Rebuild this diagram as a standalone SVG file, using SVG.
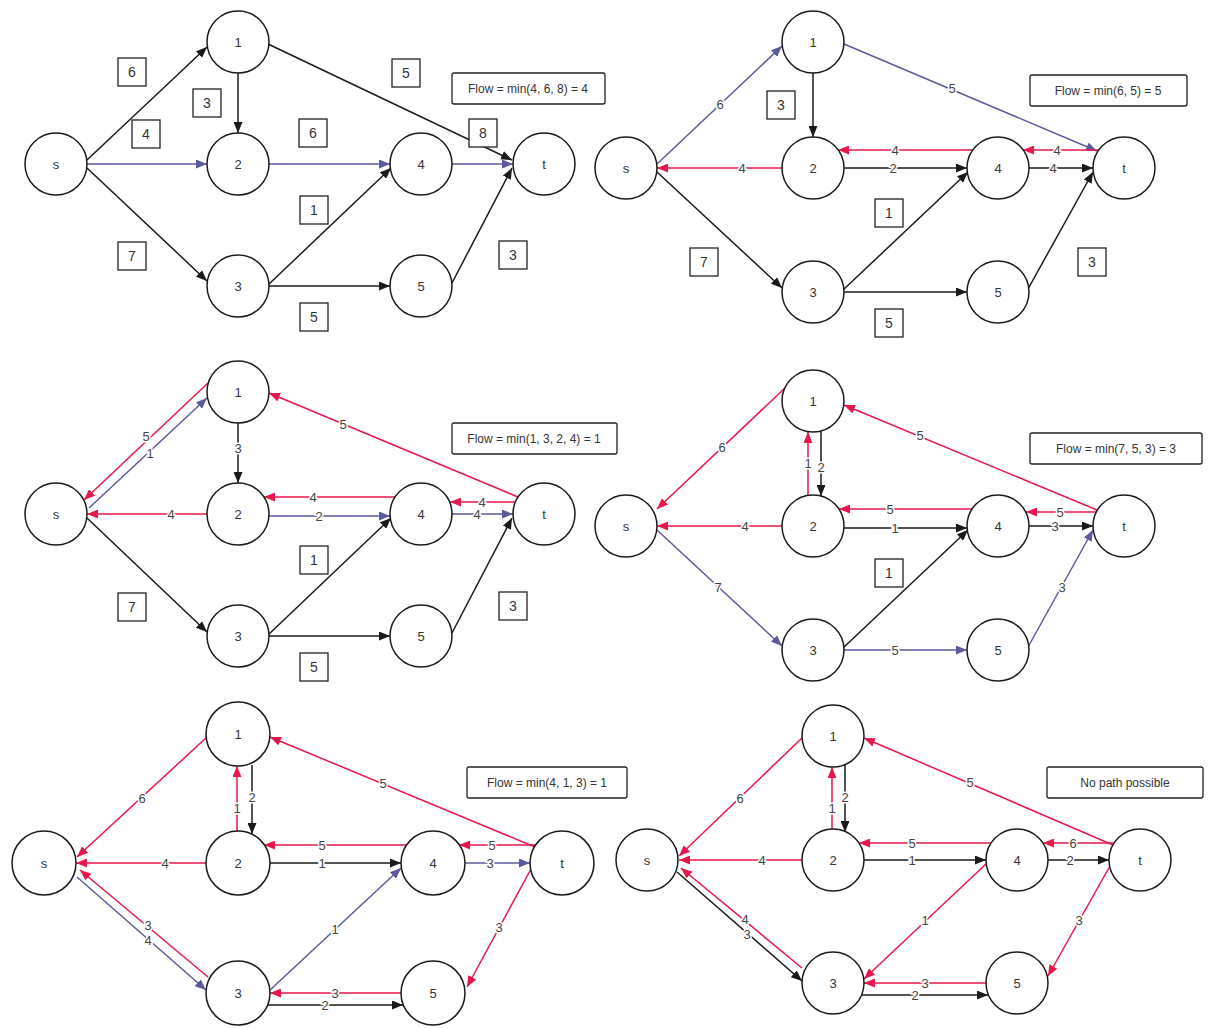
<svg xmlns="http://www.w3.org/2000/svg" width="1215" height="1028" viewBox="0 0 1215 1028">
<style>
text{font-family:"Liberation Sans",Arial,sans-serif;text-anchor:middle;dominant-baseline:central}
.k{stroke:#1a1a1a;stroke-width:1.5;fill:none}
.r{stroke:#e8174b;stroke-width:1.5;fill:none}
.p{stroke:#5a5a9c;stroke-width:1.5;fill:none}
.node circle{fill:#fff;stroke:#1a1a1a;stroke-width:1.5}
.node text{font-size:13px;fill:#333}
.el{font-size:13px;fill:#444;stroke:#fff;stroke-width:3;paint-order:stroke}
.box rect{fill:#fff;stroke:#222;stroke-width:1.3}
.box text{font-size:14px;fill:#333}
.flow rect{fill:#fff;stroke:#222;stroke-width:1.3}
.flow text{font-size:12px;fill:#333}
</style>
<defs>
<marker id="ak" markerUnits="userSpaceOnUse" markerWidth="11" markerHeight="9" refX="11" refY="4.5" orient="auto"><path d="M0,0 L11,4.5 L0,9 z" fill="#1a1a1a"/></marker>
<marker id="ar" markerUnits="userSpaceOnUse" markerWidth="11" markerHeight="9" refX="11" refY="4.5" orient="auto"><path d="M0,0 L11,4.5 L0,9 z" fill="#e8174b"/></marker>
<marker id="ap" markerUnits="userSpaceOnUse" markerWidth="11" markerHeight="9" refX="11" refY="4.5" orient="auto"><path d="M0,0 L11,4.5 L0,9 z" fill="#5a5a9c"/></marker>
</defs>
<rect width="1215" height="1028" fill="#fff"/>

<!-- PANEL 1 -->
<g id="p1-connectors">
<line x1="87" y1="160" x2="207" y2="47" class="k" marker-end="url(#ak)"/>
<line x1="87" y1="164" x2="207" y2="164" class="p" marker-end="url(#ap)"/>
<line x1="87" y1="168" x2="207" y2="281" class="k" marker-end="url(#ak)"/>
<line x1="238" y1="73" x2="238" y2="133" class="k" marker-end="url(#ak)"/>
<line x1="268" y1="44" x2="512" y2="160" class="k" marker-end="url(#ak)"/>
<line x1="269" y1="164" x2="390" y2="164" class="p" marker-end="url(#ap)"/>
<line x1="268" y1="285" x2="391" y2="168" class="k" marker-end="url(#ak)"/>
<line x1="269" y1="286" x2="390" y2="286" class="k" marker-end="url(#ak)"/>
<line x1="452" y1="164" x2="513" y2="164" class="p" marker-end="url(#ap)"/>
<line x1="452" y1="283" x2="512" y2="168" class="k" marker-end="url(#ak)"/>
</g>
<g id="p1-s" class="node"><circle cx="56" cy="164" r="31"/><text x="56" y="164">s</text></g>
<g id="p1-n1" class="node"><circle cx="238" cy="42" r="31"/><text x="238" y="42">1</text></g>
<g id="p1-n2" class="node"><circle cx="238" cy="164" r="31"/><text x="238" y="164">2</text></g>
<g id="p1-n3" class="node"><circle cx="238" cy="286" r="31"/><text x="238" y="286">3</text></g>
<g id="p1-n4" class="node"><circle cx="421" cy="164" r="31"/><text x="421" y="164">4</text></g>
<g id="p1-t" class="node"><circle cx="544" cy="164" r="31"/><text x="544" y="164">t</text></g>
<g id="p1-n5" class="node"><circle cx="421" cy="286" r="31"/><text x="421" y="286">5</text></g>
<g id="p1-c-s1" class="box"><rect x="118" y="58" width="28" height="28"/><text x="132" y="72">6</text></g>
<g id="p1-c-12" class="box"><rect x="193" y="89" width="28" height="28"/><text x="207" y="103">3</text></g>
<g id="p1-c-s2" class="box"><rect x="132" y="120" width="28" height="28"/><text x="146" y="134">4</text></g>
<g id="p1-c-24" class="box"><rect x="299" y="119" width="28" height="28"/><text x="313" y="133">6</text></g>
<g id="p1-c-s3" class="box"><rect x="118" y="242" width="28" height="28"/><text x="132" y="256">7</text></g>
<g id="p1-c-34" class="box"><rect x="300" y="196" width="28" height="28"/><text x="314" y="210">1</text></g>
<g id="p1-c-35" class="box"><rect x="300" y="303" width="28" height="28"/><text x="314" y="317">5</text></g>
<g id="p1-c-1t" class="box"><rect x="392" y="59" width="28" height="28"/><text x="406" y="73">5</text></g>
<g id="p1-c-4t" class="box"><rect x="469" y="119" width="28" height="28"/><text x="483" y="133">8</text></g>
<g id="p1-c-5t" class="box"><rect x="499" y="241" width="28" height="28"/><text x="513" y="255">3</text></g>
<g id="p1-flow" class="flow"><rect x="452" y="73" width="153" height="31" rx="2"/><text x="528" y="89">Flow = min(4, 6, 8) = 4</text></g>

<!-- PANEL 2 -->
<g id="p2-connectors">
<line x1="657" y1="164" x2="782" y2="46" class="p" marker-end="url(#ap)"/>
<line x1="782" y1="168" x2="657" y2="168" class="r" marker-end="url(#ar)"/>
<line x1="657" y1="172" x2="782" y2="288" class="k" marker-end="url(#ak)"/>
<line x1="813" y1="73" x2="813" y2="137" class="k" marker-end="url(#ak)"/>
<line x1="844" y1="44" x2="1097" y2="151" class="p" marker-end="url(#ap)"/>
<line x1="973" y1="150" x2="838" y2="150" class="r" marker-end="url(#ar)"/>
<line x1="844" y1="168" x2="967" y2="168" class="k" marker-end="url(#ak)"/>
<line x1="1099" y1="150" x2="1023" y2="150" class="r" marker-end="url(#ar)"/>
<line x1="1029" y1="168" x2="1093" y2="168" class="k" marker-end="url(#ak)"/>
<line x1="843" y1="290" x2="968" y2="172" class="k" marker-end="url(#ak)"/>
<line x1="844" y1="292" x2="967" y2="292" class="k" marker-end="url(#ak)"/>
<line x1="1028" y1="289" x2="1093" y2="172" class="k" marker-end="url(#ak)"/>
<text x="720" y="104" class="el">6</text>
<text x="742" y="168" class="el">4</text>
<text x="952" y="88" class="el">5</text>
<text x="895" y="150" class="el">4</text>
<text x="893" y="168" class="el">2</text>
<text x="1057" y="150" class="el">4</text>
<text x="1053" y="168" class="el">4</text>
</g>
<g id="p2-s" class="node"><circle cx="626" cy="168" r="31"/><text x="626" y="168">s</text></g>
<g id="p2-n1" class="node"><circle cx="813" cy="42" r="31"/><text x="813" y="42">1</text></g>
<g id="p2-n2" class="node"><circle cx="813" cy="168" r="31"/><text x="813" y="168">2</text></g>
<g id="p2-n3" class="node"><circle cx="813" cy="292" r="31"/><text x="813" y="292">3</text></g>
<g id="p2-n4" class="node"><circle cx="998" cy="168" r="31"/><text x="998" y="168">4</text></g>
<g id="p2-t" class="node"><circle cx="1124" cy="168" r="31"/><text x="1124" y="168">t</text></g>
<g id="p2-n5" class="node"><circle cx="998" cy="292" r="31"/><text x="998" y="292">5</text></g>
<g id="p2-c-12" class="box"><rect x="767" y="91" width="28" height="28"/><text x="781" y="105">3</text></g>
<g id="p2-c-s3" class="box"><rect x="690" y="248" width="28" height="28"/><text x="704" y="262">7</text></g>
<g id="p2-c-34" class="box"><rect x="875" y="199" width="28" height="28"/><text x="889" y="213">1</text></g>
<g id="p2-c-35" class="box"><rect x="875" y="309" width="28" height="28"/><text x="889" y="323">5</text></g>
<g id="p2-c-5t" class="box"><rect x="1078" y="248" width="28" height="28"/><text x="1092" y="262">3</text></g>
<g id="p2-flow" class="flow"><rect x="1030" y="75" width="157" height="31" rx="2"/><text x="1108" y="91">Flow = min(6, 5) = 5</text></g>

<!-- PANEL 3 -->
<g id="p3-connectors">
<line x1="208" y1="383" x2="84" y2="500" class="r" marker-end="url(#ar)"/>
<line x1="89" y1="508" x2="207" y2="398" class="p" marker-end="url(#ap)"/>
<line x1="238" y1="423" x2="238" y2="483" class="k" marker-end="url(#ak)"/>
<line x1="207" y1="514" x2="87" y2="514" class="r" marker-end="url(#ar)"/>
<line x1="395" y1="497" x2="264" y2="497" class="r" marker-end="url(#ar)"/>
<line x1="269" y1="516" x2="390" y2="516" class="p" marker-end="url(#ap)"/>
<line x1="518" y1="497" x2="269" y2="393" class="r" marker-end="url(#ar)"/>
<line x1="515" y1="502" x2="450" y2="502" class="r" marker-end="url(#ar)"/>
<line x1="452" y1="514" x2="513" y2="514" class="p" marker-end="url(#ap)"/>
<line x1="87" y1="518" x2="207" y2="632" class="k" marker-end="url(#ak)"/>
<line x1="268" y1="635" x2="391" y2="518" class="k" marker-end="url(#ak)"/>
<line x1="269" y1="636" x2="390" y2="636" class="k" marker-end="url(#ak)"/>
<line x1="452" y1="633" x2="512" y2="518" class="k" marker-end="url(#ak)"/>
<text x="146" y="436" class="el">5</text>
<text x="150" y="453" class="el">1</text>
<text x="238" y="448" class="el">3</text>
<text x="171" y="514" class="el">4</text>
<text x="313" y="497" class="el">4</text>
<text x="319" y="516" class="el">2</text>
<text x="343" y="424" class="el">5</text>
<text x="482" y="502" class="el">4</text>
<text x="477" y="514" class="el">4</text>
</g>
<g id="p3-s" class="node"><circle cx="56" cy="514" r="31"/><text x="56" y="514">s</text></g>
<g id="p3-n1" class="node"><circle cx="238" cy="392" r="31"/><text x="238" y="392">1</text></g>
<g id="p3-n2" class="node"><circle cx="238" cy="514" r="31"/><text x="238" y="514">2</text></g>
<g id="p3-n3" class="node"><circle cx="238" cy="636" r="31"/><text x="238" y="636">3</text></g>
<g id="p3-n4" class="node"><circle cx="421" cy="514" r="31"/><text x="421" y="514">4</text></g>
<g id="p3-t" class="node"><circle cx="544" cy="514" r="31"/><text x="544" y="514">t</text></g>
<g id="p3-n5" class="node"><circle cx="421" cy="636" r="31"/><text x="421" y="636">5</text></g>
<g id="p3-c-s3" class="box"><rect x="118" y="593" width="28" height="28"/><text x="132" y="607">7</text></g>
<g id="p3-c-34" class="box"><rect x="300" y="546" width="28" height="28"/><text x="314" y="560">1</text></g>
<g id="p3-c-35" class="box"><rect x="300" y="653" width="28" height="28"/><text x="314" y="667">5</text></g>
<g id="p3-c-5t" class="box"><rect x="499" y="592" width="28" height="28"/><text x="513" y="606">3</text></g>
<g id="p3-flow" class="flow"><rect x="452" y="423" width="165" height="31" rx="2"/><text x="534" y="439">Flow = min(1, 3, 2, 4) = 1</text></g>

<!-- PANEL 4 -->
<g id="p4-connectors">
<line x1="785" y1="388" x2="657" y2="509" class="r" marker-end="url(#ar)"/>
<line x1="782" y1="526" x2="657" y2="526" class="r" marker-end="url(#ar)"/>
<line x1="657" y1="530" x2="782" y2="646" class="p" marker-end="url(#ap)"/>
<line x1="808" y1="495" x2="808" y2="432" class="r" marker-end="url(#ar)"/>
<line x1="821" y1="431" x2="821" y2="496" class="k" marker-end="url(#ak)"/>
<line x1="1097" y1="510" x2="844" y2="405" class="r" marker-end="url(#ar)"/>
<line x1="972" y1="509" x2="839" y2="509" class="r" marker-end="url(#ar)"/>
<line x1="844" y1="528" x2="967" y2="528" class="k" marker-end="url(#ak)"/>
<line x1="1096" y1="512" x2="1026" y2="512" class="r" marker-end="url(#ar)"/>
<line x1="1029" y1="526" x2="1093" y2="526" class="k" marker-end="url(#ak)"/>
<line x1="843" y1="648" x2="968" y2="530" class="k" marker-end="url(#ak)"/>
<line x1="844" y1="650" x2="967" y2="650" class="p" marker-end="url(#ap)"/>
<line x1="1028" y1="647" x2="1093" y2="530" class="p" marker-end="url(#ap)"/>
<text x="722" y="447" class="el">6</text>
<text x="745" y="526" class="el">4</text>
<text x="718" y="587" class="el">7</text>
<text x="808" y="463" class="el">1</text>
<text x="821" y="467" class="el">2</text>
<text x="920" y="435" class="el">5</text>
<text x="890" y="509" class="el">5</text>
<text x="895" y="528" class="el">1</text>
<text x="1060" y="512" class="el">5</text>
<text x="1055" y="526" class="el">3</text>
<text x="895" y="650" class="el">5</text>
<text x="1062" y="587" class="el">3</text>
</g>
<g id="p4-s" class="node"><circle cx="626" cy="526" r="31"/><text x="626" y="526">s</text></g>
<g id="p4-n1" class="node"><circle cx="813" cy="401" r="31"/><text x="813" y="401">1</text></g>
<g id="p4-n2" class="node"><circle cx="813" cy="526" r="31"/><text x="813" y="526">2</text></g>
<g id="p4-n3" class="node"><circle cx="813" cy="650" r="31"/><text x="813" y="650">3</text></g>
<g id="p4-n4" class="node"><circle cx="998" cy="526" r="31"/><text x="998" y="526">4</text></g>
<g id="p4-t" class="node"><circle cx="1124" cy="526" r="31"/><text x="1124" y="526">t</text></g>
<g id="p4-n5" class="node"><circle cx="998" cy="650" r="31"/><text x="998" y="650">5</text></g>
<g id="p4-c-34" class="box"><rect x="875" y="559" width="28" height="28"/><text x="889" y="573">1</text></g>
<g id="p4-flow" class="flow"><rect x="1030" y="433" width="172" height="31" rx="2"/><text x="1116" y="449">Flow = min(7, 5, 3) = 3</text></g>

<!-- PANEL 5 -->
<g id="p5-connectors">
<line x1="207" y1="737" x2="77" y2="857" class="r" marker-end="url(#ar)"/>
<line x1="206" y1="863" x2="76" y2="863" class="r" marker-end="url(#ar)"/>
<line x1="208" y1="977" x2="80" y2="870" class="r" marker-end="url(#ar)"/>
<line x1="77" y1="877" x2="206" y2="990" class="p" marker-end="url(#ap)"/>
<line x1="237" y1="831" x2="237" y2="766" class="r" marker-end="url(#ar)"/>
<line x1="252" y1="765" x2="252" y2="834" class="k" marker-end="url(#ak)"/>
<line x1="535" y1="847" x2="270" y2="737" class="r" marker-end="url(#ar)"/>
<line x1="407" y1="845" x2="264" y2="845" class="r" marker-end="url(#ar)"/>
<line x1="270" y1="863" x2="401" y2="863" class="k" marker-end="url(#ak)"/>
<line x1="536" y1="845" x2="459" y2="845" class="r" marker-end="url(#ar)"/>
<line x1="465" y1="863" x2="530" y2="863" class="p" marker-end="url(#ap)"/>
<line x1="270" y1="990" x2="401" y2="868" class="p" marker-end="url(#ap)"/>
<line x1="401" y1="993" x2="270" y2="993" class="r" marker-end="url(#ar)"/>
<line x1="268" y1="1005" x2="403" y2="1005" class="k" marker-end="url(#ak)"/>
<line x1="531" y1="869" x2="467" y2="987" class="r" marker-end="url(#ar)"/>
<text x="142" y="798" class="el">6</text>
<text x="165" y="863" class="el">4</text>
<text x="148" y="925" class="el">3</text>
<text x="148" y="940" class="el">4</text>
<text x="237" y="808" class="el">1</text>
<text x="252" y="797" class="el">2</text>
<text x="383" y="783" class="el">5</text>
<text x="322" y="845" class="el">5</text>
<text x="322" y="863" class="el">1</text>
<text x="492" y="845" class="el">5</text>
<text x="490" y="863" class="el">3</text>
<text x="335" y="929" class="el">1</text>
<text x="335" y="993" class="el">3</text>
<text x="325" y="1005" class="el">2</text>
<text x="499" y="927" class="el">3</text>
</g>
<g id="p5-s" class="node"><circle cx="44" cy="863" r="32"/><text x="44" y="863">s</text></g>
<g id="p5-n1" class="node"><circle cx="238" cy="734" r="32"/><text x="238" y="734">1</text></g>
<g id="p5-n2" class="node"><circle cx="238" cy="863" r="32"/><text x="238" y="863">2</text></g>
<g id="p5-n3" class="node"><circle cx="238" cy="993" r="32"/><text x="238" y="993">3</text></g>
<g id="p5-n4" class="node"><circle cx="433" cy="863" r="32"/><text x="433" y="863">4</text></g>
<g id="p5-t" class="node"><circle cx="562" cy="863" r="32"/><text x="562" y="863">t</text></g>
<g id="p5-n5" class="node"><circle cx="433" cy="993" r="32"/><text x="433" y="993">5</text></g>
<g id="p5-flow" class="flow"><rect x="467" y="767" width="160" height="31" rx="2"/><text x="547" y="783">Flow = min(4, 1, 3) = 1</text></g>

<!-- PANEL 6 -->
<g id="p6-connectors">
<line x1="802" y1="738" x2="679" y2="856" class="r" marker-end="url(#ar)"/>
<line x1="802" y1="860" x2="679" y2="860" class="r" marker-end="url(#ar)"/>
<line x1="802" y1="968" x2="681" y2="868" class="r" marker-end="url(#ar)"/>
<line x1="677" y1="872" x2="802" y2="981" class="k" marker-end="url(#ak)"/>
<line x1="832" y1="829" x2="832" y2="767" class="r" marker-end="url(#ar)"/>
<line x1="845" y1="765" x2="845" y2="832" class="k" marker-end="url(#ak)"/>
<line x1="1113" y1="845" x2="864" y2="738" class="r" marker-end="url(#ar)"/>
<line x1="991" y1="843" x2="859" y2="843" class="r" marker-end="url(#ar)"/>
<line x1="864" y1="860" x2="986" y2="860" class="k" marker-end="url(#ak)"/>
<line x1="1114" y1="843" x2="1043" y2="843" class="r" marker-end="url(#ar)"/>
<line x1="1048" y1="860" x2="1109" y2="860" class="k" marker-end="url(#ak)"/>
<line x1="987" y1="863" x2="864" y2="979" class="r" marker-end="url(#ar)"/>
<line x1="986" y1="983" x2="864" y2="983" class="r" marker-end="url(#ar)"/>
<line x1="862" y1="995" x2="988" y2="995" class="k" marker-end="url(#ak)"/>
<line x1="1110" y1="866" x2="1048" y2="976" class="r" marker-end="url(#ar)"/>
<text x="740" y="798" class="el">6</text>
<text x="762" y="860" class="el">4</text>
<text x="745" y="919" class="el">4</text>
<text x="747" y="934" class="el">3</text>
<text x="832" y="808" class="el">1</text>
<text x="845" y="797" class="el">2</text>
<text x="970" y="782" class="el">5</text>
<text x="912" y="843" class="el">5</text>
<text x="912" y="860" class="el">1</text>
<text x="1073" y="843" class="el">6</text>
<text x="1070" y="860" class="el">2</text>
<text x="925" y="920" class="el">1</text>
<text x="925" y="983" class="el">3</text>
<text x="915" y="995" class="el">2</text>
<text x="1079" y="920" class="el">3</text>
</g>
<g id="p6-s" class="node"><circle cx="647" cy="860" r="31"/><text x="647" y="860">s</text></g>
<g id="p6-n1" class="node"><circle cx="833" cy="736" r="31"/><text x="833" y="736">1</text></g>
<g id="p6-n2" class="node"><circle cx="833" cy="860" r="31"/><text x="833" y="860">2</text></g>
<g id="p6-n3" class="node"><circle cx="833" cy="983" r="31"/><text x="833" y="983">3</text></g>
<g id="p6-n4" class="node"><circle cx="1017" cy="860" r="31"/><text x="1017" y="860">4</text></g>
<g id="p6-t" class="node"><circle cx="1140" cy="860" r="31"/><text x="1140" y="860">t</text></g>
<g id="p6-n5" class="node"><circle cx="1017" cy="983" r="31"/><text x="1017" y="983">5</text></g>
<g id="p6-flow" class="flow"><rect x="1047" y="767" width="156" height="31" rx="2"/><text x="1125" y="783">No path possible</text></g>
</svg>
